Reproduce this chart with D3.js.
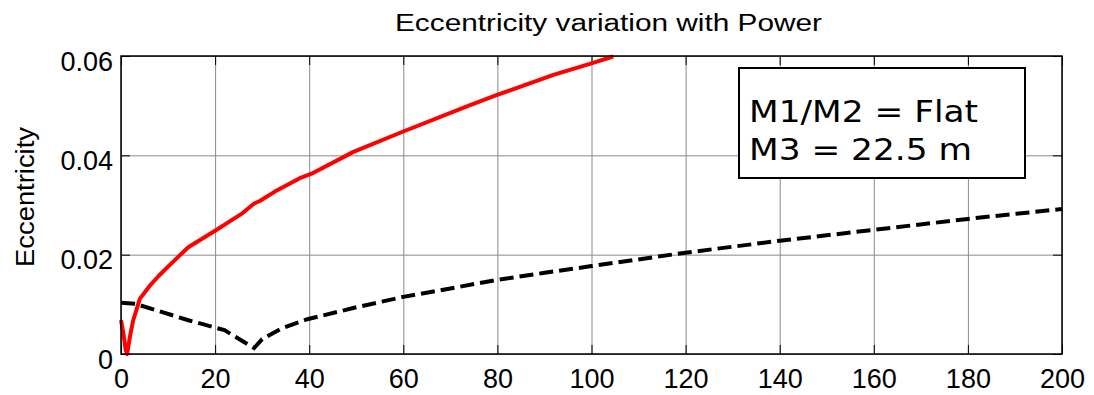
<!DOCTYPE html>
<html>
<head>
<meta charset="utf-8">
<script src="https://cdn.jsdelivr.net/npm/d3@7"></script>
<style>
  body { margin: 0; background: #fff; }
  svg { display: block; }
</style>
</head>
<body>
<div id="chart"></div>
<script>
// Data
const redPower = [0, 0.5, 1.0, 1.3, 1.9, 2.6, 4, 6, 8, 10, 14.3, 20, 25.6, 28.3, 29.5, 32.7, 38, 40.5, 49.4, 60, 74.2, 79.8, 91.9, 100, 104.6];
const redEcc = [0.0068, 0.0042, 0.0008, 0, 0.0035, 0.0068, 0.0111, 0.0136, 0.0157, 0.0176, 0.0215, 0.0248, 0.0282, 0.0303, 0.0308, 0.0327, 0.0354, 0.0363, 0.0407, 0.0448, 0.0501, 0.0521, 0.0562, 0.0585, 0.0599];

const blackPower = [0, 3, 7.2, 14.3, 22, 28.3, 30, 34.2, 39.6, 50, 60, 70, 79.8, 89.7, 100, 120, 140, 160, 180, 200];
const blackEcc = [0.0103, 0.0101, 0.0089, 0.0068, 0.0048, 0.0012, 0.0030, 0.0052, 0.0070, 0.0094, 0.0115, 0.0132, 0.0149, 0.0163, 0.0177, 0.0204, 0.0228, 0.0250, 0.0272, 0.0292];

const xTicks = [0, 20, 40, 60, 80, 100, 120, 140, 160, 180, 200];
const yTicks = [0, 0.02, 0.04, 0.06];
const legendLines = ["M1/M2 = Flat", "M3 = 22.5 m"];

const margin = {top: 56, right: 32, bottom: 41, left: 121};
const width = 1094 - margin.left - margin.right;
const height = 395 - margin.top - margin.bottom;

const svgRoot = d3.select("#chart")
    .append("svg")
    .attr("width", 1094)
    .attr("height", 395);

const svg = svgRoot.append("g")
    .attr("transform", `translate(${margin.left},${margin.top})`);

const x = d3.scaleLinear().domain([0, 200]).range([0, width]);
const y = d3.scaleLinear().domain([0, 0.06]).range([height, 0]);

// Grid lines
svg.append("g")
    .attr("transform", `translate(0,${height})`)
    .call(d3.axisBottom(x).tickValues(xTicks).tickSize(-height).tickFormat(""))
    .call(g => g.select(".domain").remove())
    .selectAll("line").attr("stroke", "#8a8a8a").attr("stroke-width", 1);

svg.append("g")
    .call(d3.axisLeft(y).tickValues(yTicks).tickSize(-width).tickFormat(""))
    .call(g => g.select(".domain").remove())
    .selectAll("line").attr("stroke", "#8a8a8a").attr("stroke-width", 1);

// Axes with inward ticks
const xAxis = svg.append("g")
    .attr("transform", `translate(0,${height})`)
    .call(d3.axisBottom(x).tickValues(xTicks).tickSize(-9).tickPadding(15));
xAxis.select(".domain").remove();
xAxis.selectAll("text")
    .attr("font-family", "Liberation Sans, Arial, sans-serif")
    .attr("font-size", 27)
    .attr("fill", "#000");

const yAxis = svg.append("g")
    .call(d3.axisLeft(y).tickValues(yTicks).tickSize(-9).tickPadding(8)
        .tickFormat(d => d === 0 ? "0" : d.toFixed(2)));
yAxis.select(".domain").remove();
yAxis.selectAll("text")
    .attr("font-family", "Liberation Sans, Arial, sans-serif")
    .attr("font-size", 27)
    .attr("dy", "0.52em")
    .attr("fill", "#000");

svg.append("g")
    .call(d3.axisTop(x).tickValues(xTicks).tickSize(-9).tickFormat(""))
    .call(g => g.select(".domain").remove());

svg.append("g")
    .attr("transform", `translate(${width},0)`)
    .call(d3.axisRight(y).tickValues(yTicks).tickSize(-9).tickFormat(""))
    .call(g => g.select(".domain").remove());

// Lines
const line = d3.line()
    .x(d => x(d[0]))
    .y(d => y(d[1]));

svg.append("path")
    .datum(d3.zip(blackPower, blackEcc))
    .attr("fill", "none")
    .attr("stroke", "#000")
    .attr("stroke-width", 4)
    .attr("stroke-dasharray", "14,6")
    .attr("d", line);

svg.append("path")
    .datum(d3.zip(redPower, redEcc))
    .attr("fill", "none")
    .attr("stroke", "#ff0000")
    .attr("stroke-width", 4)
    .attr("stroke-linejoin", "round")
    .attr("d", line);

// Plot box
svg.append("rect")
    .attr("x", 0)
    .attr("y", 0)
    .attr("width", width)
    .attr("height", height)
    .attr("fill", "none")
    .attr("stroke", "#000")
    .attr("stroke-width", 1.5);

// Text box in the upper right
const legend = svgRoot.append("g");
legend.append("rect")
    .attr("x", 739)
    .attr("y", 68)
    .attr("width", 286)
    .attr("height", 110)
    .attr("fill", "#fff")
    .attr("stroke", "#000")
    .attr("stroke-width", 2);

legend.selectAll("text.leg")
    .data(legendLines)
    .enter()
    .append("text")
    .attr("class", "leg")
    .attr("x", 749)
    .attr("y", (d, i) => 122 + i * 38)
    .attr("font-family", "DejaVu Sans, Verdana, sans-serif")
    .attr("font-size", 30)
    .attr("textLength", (d, i) => i === 0 ? 229 : 223)
    .attr("lengthAdjust", "spacingAndGlyphs")
    .text(d => d);

// Title
svgRoot.append("text")
    .attr("x", 395)
    .attr("y", 31)
    .attr("font-family", "Liberation Sans, Arial, sans-serif")
    .attr("font-size", 23)
    .attr("textLength", 427)
    .attr("lengthAdjust", "spacingAndGlyphs")
    .text("Eccentricity variation with Power");

// Y-axis label
svgRoot.append("text")
    .attr("transform", "translate(34,197) rotate(-90)")
    .attr("text-anchor", "middle")
    .attr("font-family", "Liberation Sans, Arial, sans-serif")
    .attr("font-size", 25)
    .attr("textLength", 140)
    .attr("lengthAdjust", "spacingAndGlyphs")
    .text("Eccentricity");
</script>
</body>
</html>
